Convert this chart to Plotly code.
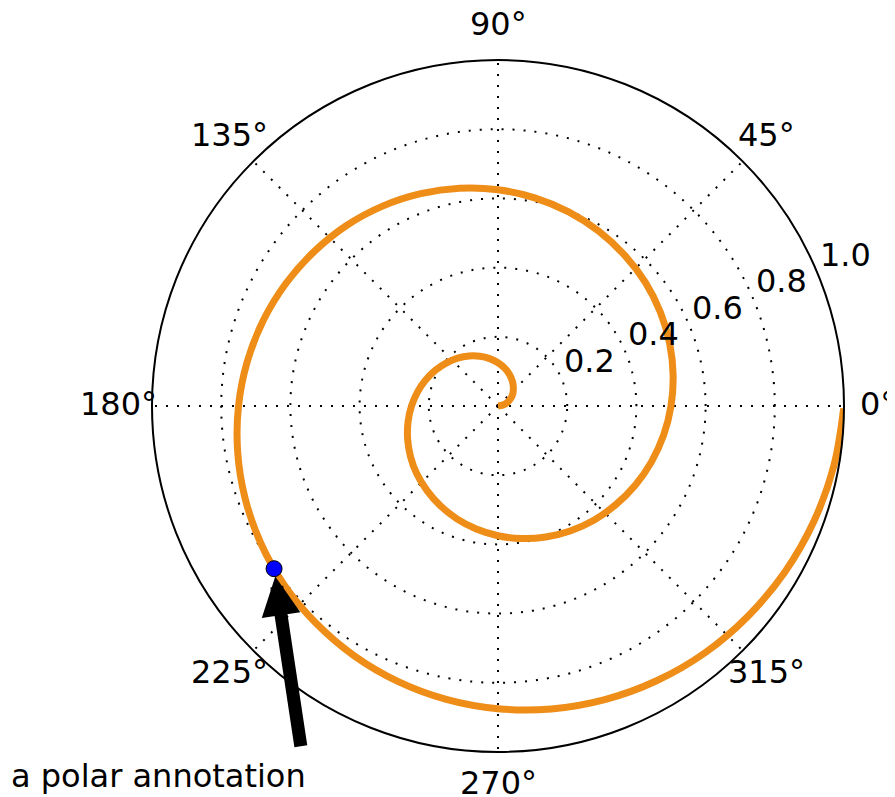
import plotly.graph_objects as go
import math

# Spiral (angle in degrees, radius)
theta_deg = [0, 10, 20, 30, 40, 50, 60, 70, 80, 90, 100, 110, 120, 130, 140, 150,
             160, 170, 180, 190, 200, 210, 220, 230, 240, 250, 260, 270, 280, 290,
             300, 310, 320, 330, 340, 350, 360, 370, 380, 390, 400, 410, 420, 430,
             440, 450, 460, 470, 480, 490, 500, 510, 520, 530, 540, 550, 560, 570,
             580, 590, 600, 610, 620, 630, 640, 650, 660, 670, 680, 690, 700, 710,
             719.6]
r_vals = [0, .014, .028, .042, .056, .069, .083, .097, .111, .125,
          .139, .153, .167, .181, .194, .208, .222, .236, .25, .264,
          .278, .292, .306, .319, .333, .347, .361, .375, .389, .403,
          .417, .431, .444, .458, .472, .486, .5, .514, .528, .542,
          .556, .569, .583, .597, .611, .625, .639, .653, .667, .681,
          .694, .708, .722, .736, .75, .764, .778, .792, .806, .819,
          .833, .847, .861, .875, .889, .903, .917, .931, .944, .958,
          .972, .986, .999]

point_theta = 216.0
point_r = 0.8
annotation_text = "a polar annotation"

angular_ticks = [0, 45, 90, 135, 180, 225, 270, 315]
angular_labels = ["0°", "45°", "90°", "135°", "180°", "225°", "270°", "315°"]
radial_ticks = [0.2, 0.4, 0.6, 0.8, 1.0]
radial_labels = ["0.2", "0.4", "0.6", "0.8", "1.0"]
radial_label_angle = 22.5

# the page has an 8px body margin; geometry below is in figure pixels
W, H = 895, 797
cx, cy, R = 490, 398, 346
xdom = [(cx - R) / W, (cx + R) / W]
ydom = [(H - cy - R) / H, (H - cy + R) / H]

FONT = "DejaVu Sans"
FS = 32

fig = go.Figure()
fig.add_trace(go.Scatterpolar(
    theta=theta_deg, r=r_vals, mode="lines",
    line=dict(color="#ee8d18", width=7, shape="spline", smoothing=1),
    hoverinfo="skip", showlegend=False,
))
fig.add_trace(go.Scatterpolar(
    theta=[point_theta], r=[point_r], mode="markers",
    marker=dict(color="#0000ff", size=16, line=dict(color="black", width=1)),
    showlegend=False,
))

# invisible cartesian overlay covering the whole figure, scaled so that
# one unit equals the polar radius and the origin is the polar centre
fig.add_trace(go.Scatter(x=[None], y=[None], xaxis="x", yaxis="y", showlegend=False))
fig.update_layout(
    xaxis=dict(domain=[0, 1], range=[-cx / R, (W - cx) / R], visible=False, fixedrange=True),
    yaxis=dict(domain=[0, 1], range=[(cy - H) / R, cy / R], visible=False, fixedrange=True),
)

def xy(theta, r):
    return r * math.cos(math.radians(theta)), r * math.sin(math.radians(theta))

# angular labels, centred a fixed distance outside the circle
label_r = 379.5 / R
for a, lab in zip(angular_ticks, angular_labels):
    x, y = xy(a, label_r)
    fig.add_annotation(x=x, y=y, xref="x", yref="y", text=lab, showarrow=False,
                       xanchor="center", yanchor="middle", yshift=2.5,
                       font=dict(family=FONT, size=FS, color="black"))

# radial labels along 22.5 degrees
for rv, lab in zip(radial_ticks, radial_labels):
    x, y = xy(radial_label_angle, rv)
    fig.add_annotation(x=x, y=y, xref="x", yref="y", text=lab, showarrow=False,
                       xanchor="left", yanchor="bottom", yshift=-2,
                       font=dict(family=FONT, size=FS, color="black"))

px, py = xy(point_theta, point_r)
fig.add_annotation(
    x=px, y=py, xref="x", yref="y",
    ax=27, ay=179, axref="pixel", ayref="pixel",
    text="", showarrow=True, arrowhead=2, arrowsize=0.6, arrowwidth=13,
    arrowcolor="black", standoff=8,
)
fig.add_annotation(
    x=1 / W, y=8 / H, xref="paper", yref="paper",
    xanchor="left", yanchor="bottom", text=annotation_text, showarrow=False,
    font=dict(family=FONT, size=FS, color="black"),
)

grid_dash = "2px,9px"
fig.update_layout(
    width=W, height=H,
    margin=dict(l=0, r=0, t=0, b=0),
    paper_bgcolor="white", plot_bgcolor="white",
    font=dict(family=FONT, size=FS, color="black"),
    polar=dict(
        domain=dict(x=xdom, y=ydom),
        bgcolor="white",
        angularaxis=dict(
            direction="counterclockwise", rotation=0,
            tickmode="array", tickvals=angular_ticks,
            showticklabels=False,
            ticks="", showline=True, linecolor="black", linewidth=2,
            showgrid=True, gridcolor="black", gridwidth=1.5, griddash=grid_dash,
        ),
        radialaxis=dict(
            range=[0, 1], angle=radial_label_angle,
            tickmode="array", tickvals=radial_ticks,
            showticklabels=False,
            ticks="", showline=False,
            showgrid=True, gridcolor="black", gridwidth=1.5, griddash=grid_dash,
        ),
    ),
)

fig.write_html("out.html")
